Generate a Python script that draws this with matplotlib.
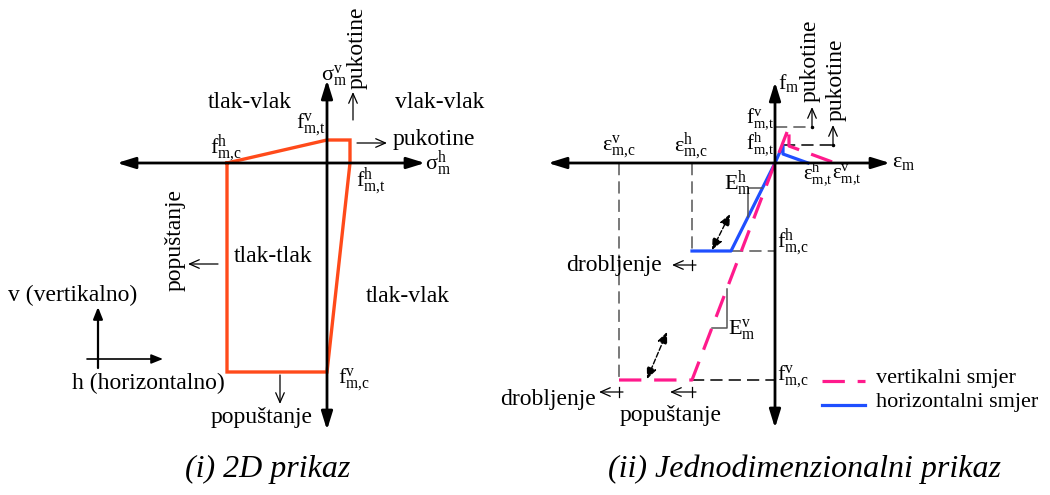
import matplotlib
matplotlib.use("Agg")
import matplotlib.pyplot as plt

plt.rcParams['font.family'] = ['Liberation Serif', 'DejaVu Serif']
plt.rcParams['mathtext.fontset'] = 'custom'
plt.rcParams['mathtext.rm'] = 'Liberation Serif'
plt.rcParams['mathtext.it'] = 'Liberation Serif:italic'

# ── (i) 2D envelope, stress plane (sigma_h, sigma_v), schematic units ──
fmc_h_2d = -100
fmt_h_2d = 23
fmt_v_2d = 23
fmc_v_2d = -209
env_x = [fmc_h_2d, 0, fmt_h_2d, fmt_h_2d, 0, fmc_h_2d, fmc_h_2d]
env_y = [0, fmt_v_2d, fmt_v_2d, 0, fmc_v_2d, fmc_v_2d, 0]

# ── (ii) 1D stress-strain laws, schematic units ──
vert_eps = [-156, -83, 0, 14, 14, 60]
vert_sig = [-217, -217, 0, 36, 17, 0]
hor_eps = [-83, -44, 0, 8, 8, 33]
hor_sig = [-88, -88, 0, 18, 9, 0]

FS = 17       # words
MFS = 16      # symbols
RED = '#FF4A1A'
PINK = '#FF1A8C'
BLUE = '#1F4FFF'
GREY = '#555555'

fig = plt.figure(figsize=(10.5, 4.95), dpi=100)
axL = fig.add_axes([0, 0, 0.5, 1])
axR = fig.add_axes([0.5, 0, 0.5, 1])
axL.set_xlim(-327, 198); axL.set_ylim(-332, 163)
axR.set_xlim(-250, 275); axR.set_ylim(-332, 163)
for ax in (axL, axR):
    ax.axis('off')


def big_arrow(ax, tail, tip, both=False):
    style = '<|-|>' if both else '-|>'
    ax.annotate('', xy=tip, xytext=tail,
                arrowprops=dict(arrowstyle=style + ',head_length=0.55,head_width=0.17',
                                mutation_scale=20, lw=2.0, color='k',
                                shrinkA=0, shrinkB=0))


def thin_arrow(ax, tail, tip, style='->', ls='-', lw=0.9):
    ax.annotate('', xy=tip, xytext=tail,
                arrowprops=dict(arrowstyle=style + ',head_length=0.5,head_width=0.22',
                                mutation_scale=14, lw=lw, color='k', ls=ls,
                                shrinkA=0, shrinkB=0))


def lbl(ax, x, y, s, **kw):
    kw.setdefault('ha', 'center')
    kw.setdefault('va', 'center')
    ax.text(x, y, s, fontsize=kw.pop('fs', FS), **kw)


def sym(ax, x, y, base, sub, sup=None, **kw):
    kw.setdefault('fs', MFS)
    s = r'$\mathrm{%s}' % base
    if sup:
        s += r'^{\mathrm{%s}}' % sup
    s += r'_{\mathrm{%s}}$' % sub.replace(',', '{,}')
    lbl(ax, x, y, s, **kw)


# ---------------- left panel ----------------
big_arrow(axL, (-210, 0), (98, 0), both=True)
big_arrow(axL, (0, -267), (0, 83), both=True)
axL.plot(env_x, env_y, color=RED, lw=2.4, solid_joinstyle='miter')

sym(axL, 7, 88, r'\sigma', 'm', 'v')
sym(axL, 111, -1, r'\sigma', 'm', 'h')
lbl(axL, 30, 115, 'pukotine', rotation=90)
thin_arrow(axL, (26, 43), (26, 71))
thin_arrow(axL, (30, 20), (60, 20))
lbl(axL, 66, 24, 'pukotine', ha='left')
lbl(axL, -77, 60, 'tlak-vlak')
lbl(axL, 113, 60, 'vlak-vlak')
sym(axL, -16, 39, 'f', 'm,t', 'v')
sym(axL, -101, 14, 'f', 'm,c', 'h')
sym(axL, 44, -19, 'f', 'm,t', 'h')
sym(axL, 27, -216, 'f', 'm,c', 'v')
lbl(axL, -152, -77, 'popuštanje', rotation=90)
thin_arrow(axL, (-109, -101), (-139, -101))
lbl(axL, -54, -94, 'tlak-tlak')
lbl(axL, 81, -134, 'tlak-vlak')
thin_arrow(axL, (-47, -212), (-47, -241))
lbl(axL, -65, -254, 'popuštanje')

# orientation sketch
lbl(axL, -254, -132, 'v (vertikalno)')
lbl(axL, -179, -220, 'h (horizontalno)')
axL.annotate('', xy=(-229, -144), xytext=(-229, -205),
             arrowprops=dict(arrowstyle='-|>,head_length=0.5,head_width=0.2',
                             mutation_scale=14, lw=1.6, color='k', shrinkA=0, shrinkB=0))
axL.annotate('', xy=(-164, -196), xytext=(-240, -196),
             arrowprops=dict(arrowstyle='-|>,head_length=0.5,head_width=0.2',
                             mutation_scale=14, lw=1.2, color='k', shrinkA=0, shrinkB=0))

# ---------------- right panel ----------------
big_arrow(axR, (-227, 0), (115, 0), both=True)
big_arrow(axR, (0, -265), (0, 81), both=True)

dash = dict(color=GREY, lw=1.1, dashes=(8, 4))
axR.plot([vert_eps[0], vert_eps[0]], [0, vert_sig[0]], **dash)
axR.plot([hor_eps[0], hor_eps[0]], [0, hor_sig[0]], **dash)
axR.plot([vert_eps[1], 0], [vert_sig[1], vert_sig[1]], color='k', lw=1.1, dashes=(8, 4))
axR.plot([hor_eps[1], 0], [hor_sig[1], hor_sig[1]], **dash)
axR.plot([0, 37], [vert_sig[3], vert_sig[3]], **dash)
axR.plot([hor_eps[3], 58], [hor_sig[3], hor_sig[3]], color='k', lw=1.1, dashes=(8, 4))

axR.plot(hor_eps, hor_sig, color=BLUE, lw=2.3)
axR.plot(vert_eps, vert_sig, color=PINK, lw=2.3, dashes=(7, 4))

# crack arrows
for x0, y0 in [(37, vert_sig[3]), (58, hor_sig[3])]:
    axR.plot([x0], [y0], 'k.', ms=3)
    thin_arrow(axR, (x0, y0), (x0, y0 + 20))
lbl(axR, 35, 102, 'pukotine', rotation=90)
lbl(axR, 61, 83, 'pukotine', rotation=90)

# modulus brackets
axR.plot([-27, -27, -13], [-54, -25, -25], color=GREY, lw=1.1)
axR.plot([-48, -48, -63], [-126, -165, -165], color=GREY, lw=1.1)
sym(axR, -37, -21, 'E', 'm', 'h')
sym(axR, -33, -166, 'E', 'm', 'v')

# unloading / reloading
thin_arrow(axR, (-63, -87), (-45, -51), style='<|-|>', ls='--', lw=1.0)
thin_arrow(axR, (-128, -216), (-108, -169), style='<|-|>', ls='--', lw=1.0)

sym(axR, 3, 80, 'f', 'm', ha='left')
sym(axR, 117, 0, r'\varepsilon', 'm', ha='left')
sym(axR, -1, 44, 'f', 'm,t', 'v', ha='right', fs=15)
sym(axR, -1, 19, 'f', 'm,t', 'h', ha='right', fs=15)
sym(axR, 2, -80, 'f', 'm,c', 'h', ha='left')
sym(axR, 2, -213, 'f', 'm,c', 'v', ha='left')
sym(axR, -156, 16, r'\varepsilon', 'm,c', 'v')
sym(axR, -84, 16, r'\varepsilon', 'm,c', 'h')
sym(axR, 28, -11, r'\varepsilon', 'm,t', 'h', ha='left', fs=15)
sym(axR, 57, -11, r'\varepsilon', 'm,t', 'v', ha='left', fs=15)

# crushing / yielding markers
for xt, xs, y in [(-83, -103, -102), (-156, -176, -229), (-83, -105, -229)]:
    thin_arrow(axR, (xt + 4, y), (xs, y), lw=0.9)
    axR.plot([xt, xt], [y - 5, y + 5], color='k', lw=0.9)
lbl(axR, -113, -102, 'drobljenje', ha='right')
lbl(axR, -179, -237, 'drobljenje', ha='right')
lbl(axR, -104, -252, 'popuštanje')

# legend
axR.plot([47, 90], [-218, -218], color=PINK, lw=2.3, dashes=(7, 4))
axR.plot([47, 90], [-242, -242], color=BLUE, lw=2.3)
lbl(axR, 101, -216, 'vertikalni smjer', ha='left', fs=16)
lbl(axR, 101, -240, 'horizontalni smjer', ha='left', fs=16)

fig.text(268 / 1050, 1 - 469 / 495, '(i) 2D prikaz', fontsize=23, style='italic',
         ha='center', va='center')
fig.text(805 / 1050, 1 - 469 / 495, '(ii) Jednodimenzionalni prikaz', fontsize=23,
         style='italic', ha='center', va='center')

fig.savefig('out.png', dpi=100)
